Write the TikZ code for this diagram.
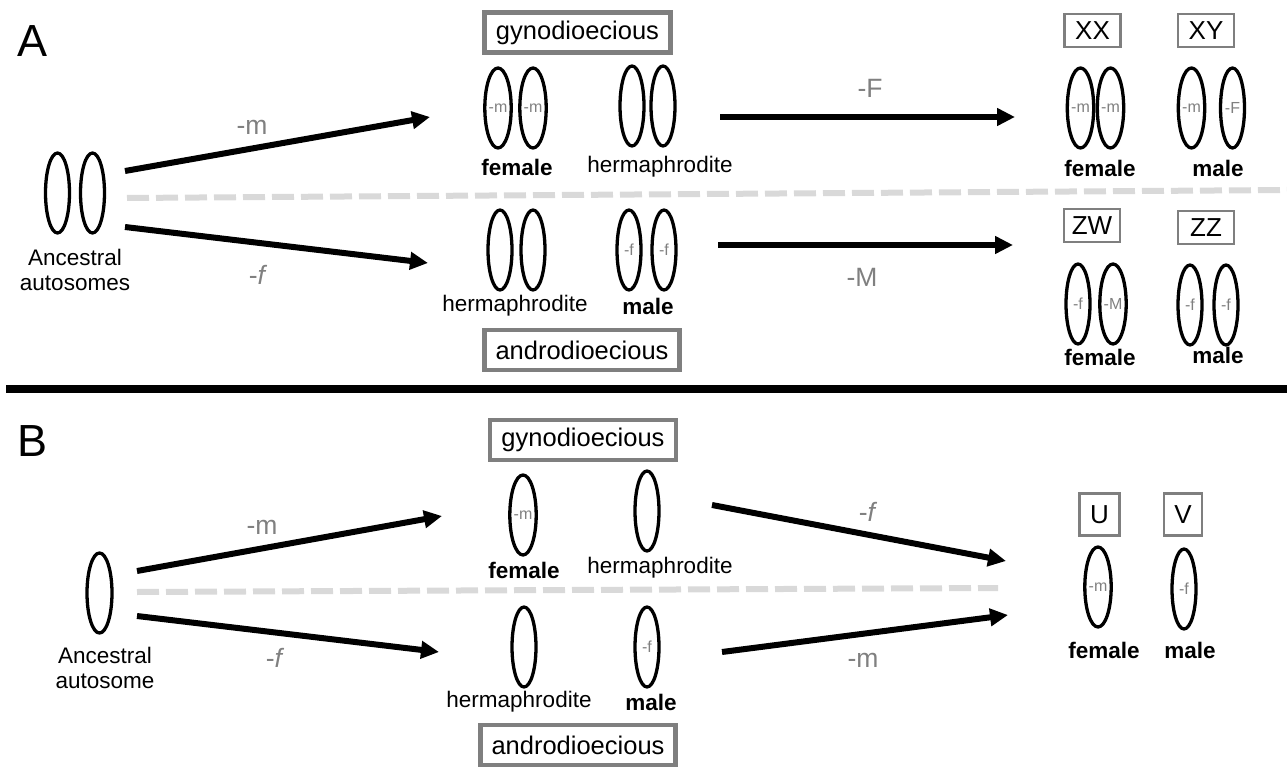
\documentclass[tikz,border=0pt]{standalone}
\usepackage{fontspec}
\setmainfont{Liberation Sans}
\usetikzlibrary{shapes.geometric,arrows.meta}
\definecolor{boxgray}{HTML}{7F7F7F}
\definecolor{labgray}{HTML}{808080}
\definecolor{dashgray}{HTML}{D9D9D9}
\tikzset{
  chrom/.style={ellipse, draw=black, line width=3.3pt, minimum width=24pt, minimum height=80pt, inner sep=0pt, text=labgray, font=\fontsize{16}{16}\selectfont},
  lab/.style={font=\fontsize{22.5}{25}\selectfont, align=center, inner sep=0pt},
  sexlab/.style={font=\fontsize{22.5}{25}\selectfont\bfseries, inner sep=0pt},
  bigbox/.style={draw=boxgray, line width=4.5pt, minimum width=186pt, minimum height=40pt, inner sep=0pt, font=\fontsize{25.5}{26}\selectfont},
  smallbox/.style={draw=boxgray, line width=2.5pt, minimum width=56pt, minimum height=33pt, inner sep=0pt, font=\fontsize{26}{26}\selectfont},
  arr/.style={line width=6pt, -{Triangle[length=18pt,width=17pt]}},
  mut/.style={text=labgray, font=\fontsize{26.5}{26}\selectfont, inner sep=0pt},
  divider/.style={draw=dashgray, line width=6pt, dash pattern=on 22pt off 7pt},
  panel/.style={font=\fontsize{45}{45}\selectfont, inner sep=0pt}
}
\begin{document}
\begin{tikzpicture}[x=1pt,y=-1pt]
\useasboundingbox (0,0) rectangle (1287,767);

%%%%%%%%%%%%%%%% Panel A
\node[panel] (A) at (33,41) {A};
\node[chrom] (a0l) at (57.5,193) {};
\node[chrom] (a0r) at (92.5,193) {};
\node[lab] (a0t) at (75,270) {Ancestral\\autosomes};

\coordinate (aS1) at (125,171); \coordinate (aE1) at (430,117);
\coordinate (aS2) at (125,227); \coordinate (aE2) at (428,263);
\draw[arr] (aS1) -- (aE1);
\draw[arr] (aS2) -- (aE2);
\node[mut] (am1) at (252,127) {-m};
\node[mut] (af1) at (258,275) {-\textit{f}};

\coordinate (aD1) at (127,198); \coordinate (aD2) at (1287,190);
\draw[divider] (aD1) -- (aD2);

\node[bigbox] (agyno) at (577.5,32.5) {gynodioecious};
\node[chrom] (agf1) at (498,108) {-m};
\node[chrom] (agf2) at (533,108) {-m};
\node[sexlab] (agft) at (517,167) {female};
\node[chrom] (agh1) at (632,106) {};
\node[chrom] (agh2) at (663,106) {};
\node[lab] (aght) at (660,167) {hermaphrodite};

\node[chrom] (aah1) at (500,250) {};
\node[chrom] (aah2) at (533,250) {};
\node[lab] (aaht) at (515,306) {hermaphrodite};
\node[chrom] (aam1) at (629,250) {-f};
\node[chrom] (aam2) at (664,250) {-f};
\node[sexlab] (aamt) at (648,306) {male};
\node[bigbox, minimum width=195pt] (aandro) at (582,350) {androdioecious};

\coordinate (aS3) at (720,117); \coordinate (aE3) at (1015,117);
\coordinate (aS4) at (718,245); \coordinate (aE4) at (1013,245);
\draw[arr] (aS3) -- (aE3);
\draw[arr] (aS4) -- (aE4);
\node[mut] (aF) at (870,88) {-F};
\node[mut] (aM) at (862,277) {-M};

\node[smallbox] (xx) at (1092.5,30.5) {XX};
\node[smallbox] (xy) at (1206,30.5) {XY};
\node[chrom] (xx1) at (1080.5,108) {-m};
\node[chrom] (xx2) at (1110.5,108) {-m};
\node[chrom] (xy1) at (1191.5,108) {-m};
\node[chrom] (xy2) at (1232.5,108) {-F};
\node[sexlab] (xxt) at (1100,168) {female};
\node[sexlab] (xyt) at (1218,168) {male};

\node[smallbox] (zw) at (1092,225.5) {ZW};
\node[smallbox] (zz) at (1206,227.5) {ZZ};
\node[chrom] (zw1) at (1078,304) {-f};
\node[chrom] (zw2) at (1113,304) {-M};
\node[chrom] (zz1) at (1190,305) {-f};
\node[chrom] (zz2) at (1226,305) {-f};
\node[sexlab] (zwt) at (1100,357) {female};
\node[sexlab] (zzt) at (1218,355) {male};

% separator
\coordinate (sepL) at (6,389); \coordinate (sepR) at (1287,389);
\draw[line width=8pt] (sepL) -- (sepR);

%%%%%%%%%%%%%%%% Panel B
\node[panel] (B) at (33,441) {B};
\node[chrom, minimum width=25pt] (b0) at (99.5,593) {};
\node[lab] (b0t) at (105,668) {Ancestral\\autosome};

\coordinate (bS1) at (137,571); \coordinate (bE1) at (442,516);
\coordinate (bS2) at (137,616); \coordinate (bE2) at (439,652);
\draw[arr] (bS1) -- (bE1);
\draw[arr] (bS2) -- (bE2);
\node[mut] (bm1) at (262,527) {-m};
\node[mut] (bf1) at (275,658) {-\textit{f}};

\coordinate (bD1) at (137,592); \coordinate (bD2) at (998,588);
\draw[divider] (bD1) -- (bD2);

\node[bigbox] (bgyno) at (583,440) {gynodioecious};
\node[chrom] (bgf) at (523,515) {-m};
\node[sexlab] (bgft) at (524,570) {female};
\node[chrom] (bgh) at (647,511) {};
\node[lab] (bght) at (660,568) {hermaphrodite};

\node[chrom] (bah) at (524,647) {};
\node[lab] (baht) at (519,702) {hermaphrodite};
\node[chrom] (bam) at (647,647) {-f};
\node[sexlab] (bamt) at (651,702) {male};
\node[bigbox, minimum width=195pt] (bandro) at (578,745) {androdioecious};

\coordinate (bS3) at (712,505); \coordinate (bE3) at (1006,561);
\coordinate (bS4) at (722,652); \coordinate (bE4) at (1008,615);
\draw[arr] (bS3) -- (bE3);
\draw[arr] (bS4) -- (bE4);
\node[mut] (bf2) at (868,512) {-\textit{f}};
\node[mut] (bm2) at (863,660) {-m};

\node[smallbox, minimum width=40pt, minimum height=42pt] (ubox) at (1099.5,514.5) {U};
\node[smallbox, minimum width=38pt, minimum height=42pt] (vbox) at (1183,514.5) {V};
\node[chrom] (uc) at (1098,587) {-m};
\node[chrom] (vc) at (1184,589) {-f};
\node[sexlab] (ut) at (1104,650) {female};
\node[sexlab] (vt) at (1190,650) {male};
\end{tikzpicture}
\end{document}
